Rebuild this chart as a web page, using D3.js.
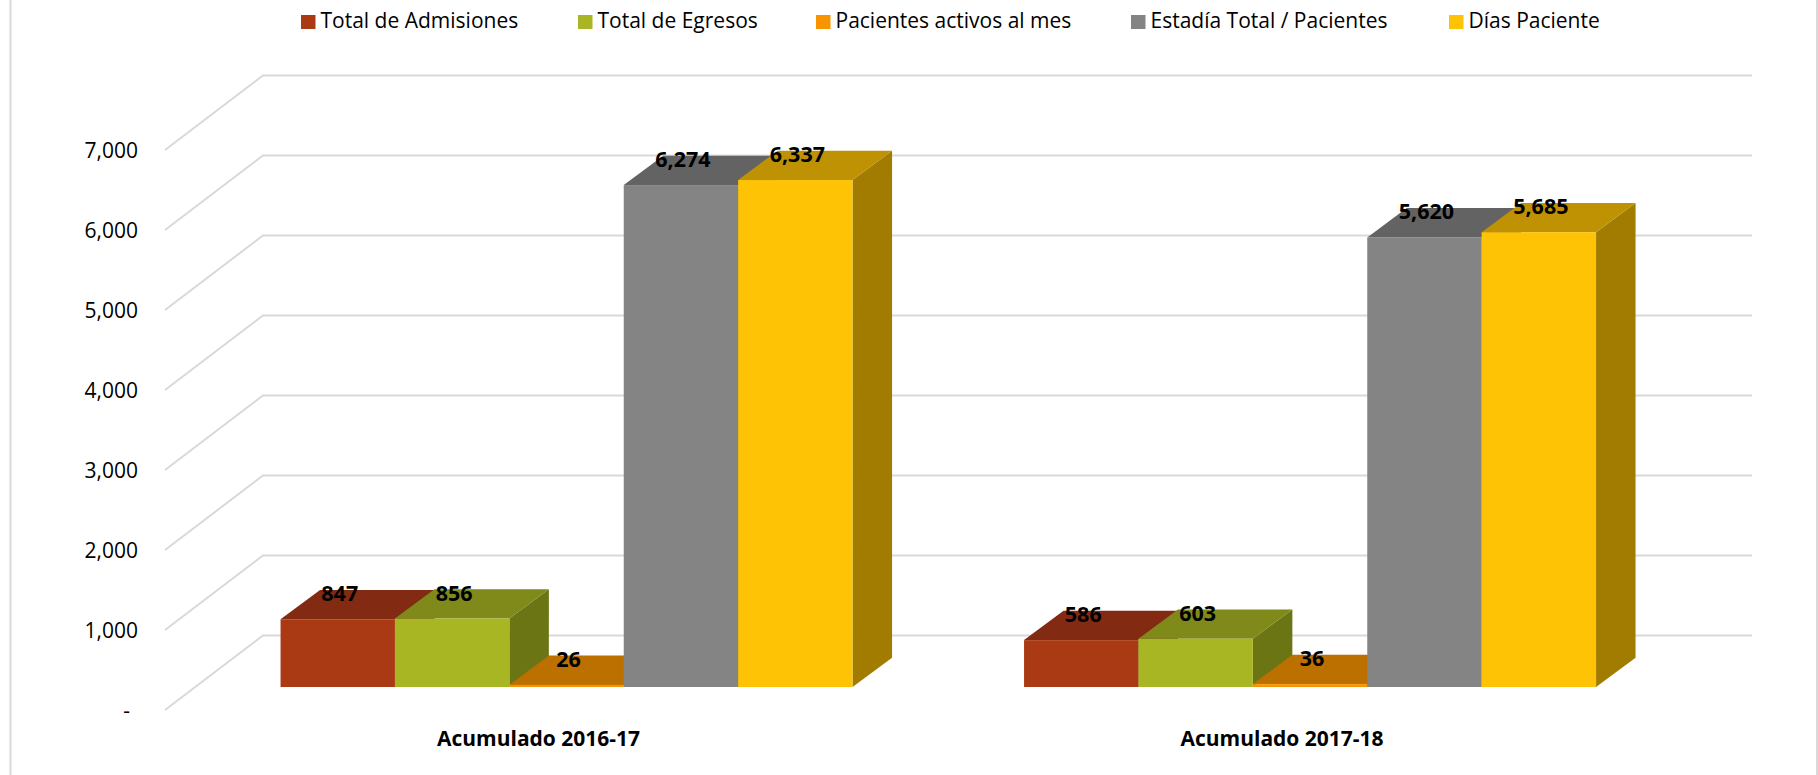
<!DOCTYPE html>
<html>
<head>
<meta charset="utf-8">
<script src="https://cdn.jsdelivr.net/npm/d3@7"></script>
<style>
body { margin: 0; background: #fff; }
text { font-family: "Open Sans", sans-serif; fill: #000; }
</style>
</head>
<body>
<div id="chart"></div>
<script>
const categories = ["Acumulado 2016-17", "Acumulado 2017-18"];
const seriesNames = ["Total de Admisiones", "Total de Egresos", "Pacientes activos al mes", "Estadía Total / Pacientes", "Días Paciente"];
const values2016 = [847, 856, 26, 6274, 6337];
const values2017 = [586, 603, 36, 5620, 5685];
const tickValues = [0, 1000, 2000, 3000, 4000, 5000, 6000, 7000];

const colors = ["#aa3a14", "#a8b624", "#f79400", "#848484", "#ffc305"];
const topColors = ["#822b12", "#7f8a1b", "#bc7000", "#636363", "#bf9203"];
const sideColors = ["#65230d", "#6c7514", "#a06000", "#555555", "#a27c00"];
const legendX = [301, 578, 816, 1131, 1449];

const width = 1818, height = 775;
// depth of the floor and of the bars
const wallDx = 98, wallDy = 74.5;
const barDx = 39.5, barDy = 29.3;
const floorDy = 23;

const svg = d3.select("#chart")
    .append("svg")
    .attr("width", width)
    .attr("height", height)
    .style("display", "block");

// frame of the picture
svg.append("line").attr("x1", 10.5).attr("x2", 10.5).attr("y1", 0).attr("y2", height)
    .attr("stroke", "#d9d9d9").attr("stroke-width", 2);
svg.append("line").attr("x1", 1817).attr("x2", 1817).attr("y1", 0).attr("y2", height)
    .attr("stroke", "#d9d9d9").attr("stroke-width", 2);

const y = d3.scaleLinear().domain([0, 7000]).range([710, 150]);
const x0 = d3.scaleBand().domain(categories).range([194.8, 1681.8]);
const x1 = d3.scaleBand().domain(seriesNames).range([85.75, 657.75]);

// gridlines: slanted side wall + back wall
const grid = svg.append("g");
grid.selectAll("path")
    .data(tickValues)
    .join("path")
    .attr("d", d => `M165,${y(d)}L${165 + wallDx},${y(d) - wallDy}H1752`)
    .attr("fill", "none")
    .attr("stroke", "#d9d9d9")
    .attr("stroke-width", 2);

// y axis
const yAxis = svg.append("g")
    .attr("transform", "translate(138,1)")
    .call(d3.axisLeft(y).tickValues(tickValues).tickSize(0).tickPadding(0)
        .tickFormat(d => d === 0 ? "-" : d3.format(",")(d)));
yAxis.select(".domain").remove();
yAxis.selectAll("text").style("font-size", "21px").style("font-family", '"Open Sans", sans-serif').attr("fill", "#000");
yAxis.selectAll("text").filter(d => d === 0).attr("dx", -8);

// category axis
const xAxis = svg.append("g")
    .attr("transform", "translate(-28,731.5)")
    .call(d3.axisBottom(x0).tickSize(0).tickPadding(0));
xAxis.select(".domain").remove();
xAxis.selectAll("text").style("font-size", "21px").style("font-weight", 700)
    .style("font-family", '"Open Sans", sans-serif').attr("fill", "#000");

// bars
const rows = categories.map((c, i) => ({
    category: c,
    bars: seriesNames.map((s, j) => ({
        series: s,
        index: j,
        value: [values2016, values2017][i][j]
    }))
}));

const bw = x1.bandwidth();
const floor = v => y(v) - floorDy;

const groups = svg.append("g").selectAll("g")
    .data(rows)
    .join("g")
    .attr("transform", d => `translate(${x0(d.category)},0)`);

const bars = groups.selectAll("g")
    .data(d => d.bars)
    .join("g");

bars.append("path")
    .attr("fill", d => sideColors[d.index])
    .attr("d", d => {
        const xr = x1(d.series) + bw;
        return `M${xr},${floor(0)}L${xr + barDx},${floor(0) - barDy}V${floor(d.value) - barDy}L${xr},${floor(d.value)}Z`;
    });

bars.append("path")
    .attr("fill", d => topColors[d.index])
    .attr("d", d => {
        const xl = x1(d.series);
        return `M${xl},${floor(d.value)}L${xl + barDx},${floor(d.value) - barDy}h${bw}L${xl + bw},${floor(d.value)}Z`;
    });

bars.append("rect")
    .attr("x", d => x1(d.series))
    .attr("y", d => floor(d.value))
    .attr("width", bw)
    .attr("height", d => floor(0) - floor(d.value))
    .attr("fill", d => colors[d.index]);

// value labels go last, they sit above the top faces
groups.selectAll("text.value")
    .data(d => d.bars)
    .join("text")
    .attr("class", "value")
    .attr("x", d => x1(d.series) + bw / 2 + 2)
    .attr("y", d => floor(d.value) - 25.5)
    .attr("dy", "0.35em")
    .attr("text-anchor", "middle")
    .style("font-size", "21.5px")
    .style("font-weight", 700)
    .text(d => d3.format(",")(d.value));

// legend
const legend = svg.append("g").selectAll("g")
    .data(seriesNames)
    .join("g")
    .attr("transform", (d, i) => `translate(${legendX[i]},0)`);
legend.append("rect")
    .attr("y", 15)
    .attr("width", 14.5)
    .attr("height", 14)
    .attr("fill", (d, i) => colors[i]);
legend.append("text")
    .attr("x", 19.5)
    .attr("y", 21)
    .attr("dy", "0.35em")
    .style("font-size", "21px")
    .text(d => d);
</script>
</body>
</html>
